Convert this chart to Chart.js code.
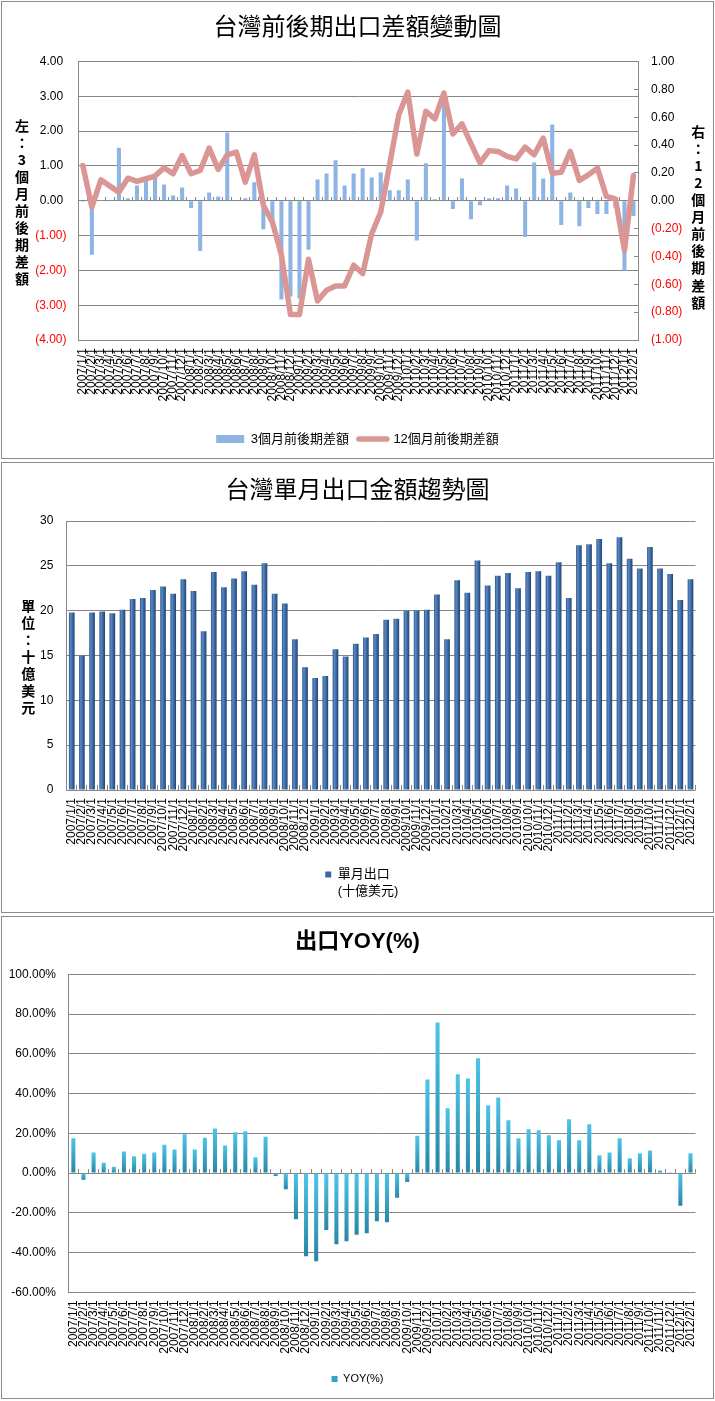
<!DOCTYPE html>
<html>
<head>
<meta charset="utf-8">
<script src="https://cdn.jsdelivr.net/npm/chart.js@4.4.1/dist/chart.umd.min.js"></script>
<style>
  body { margin: 0; background: #fff; }
  .panel { position: absolute; left: 1px; width: 711px; border: 1px solid #8c8c8c; background: #fff; }
  canvas { display: block; }
</style>
</head>
<body>
<div class="panel" style="top:1px;height:456px"><canvas id="diffChart" width="711" height="456"></canvas></div>
<div class="panel" style="top:462px;height:449px"><canvas id="exportChart" width="711" height="449"></canvas></div>
<div class="panel" style="top:916px;height:481px"><canvas id="yoyChart" width="711" height="481"></canvas></div>
<script>
// categories shared by all three charts
const months = [
  '2007/1/1', '2007/2/1', '2007/3/1', '2007/4/1', '2007/5/1', '2007/6/1',
  '2007/7/1', '2007/8/1', '2007/9/1', '2007/10/1', '2007/11/1', '2007/12/1',
  '2008/1/1', '2008/2/1', '2008/3/1', '2008/4/1', '2008/5/1', '2008/6/1',
  '2008/7/1', '2008/8/1', '2008/9/1', '2008/10/1', '2008/11/1', '2008/12/1',
  '2009/1/1', '2009/2/1', '2009/3/1', '2009/4/1', '2009/5/1', '2009/6/1',
  '2009/7/1', '2009/8/1', '2009/9/1', '2009/10/1', '2009/11/1', '2009/12/1',
  '2010/1/1', '2010/2/1', '2010/3/1', '2010/4/1', '2010/5/1', '2010/6/1',
  '2010/7/1', '2010/8/1', '2010/9/1', '2010/10/1', '2010/11/1', '2010/12/1',
  '2011/1/1', '2011/2/1', '2011/3/1', '2011/4/1', '2011/5/1', '2011/6/1',
  '2011/7/1', '2011/8/1', '2011/9/1', '2011/10/1', '2011/11/1', '2011/12/1',
  '2012/1/1', '2012/2/1'
];

// chart 1: 3-month difference (left axis) and 12-month difference (right axis)
const diff3m = [
  -0.03, -1.55, 0.02, 0.01, 1.52, 0.07, 0.44, 0.58, 0.65, 0.47, 0.15, 0.38,
  -0.21, -1.44, 0.24, 0.12, 1.96, 0.01, 0.07, 0.53, -0.82, -0.65, -2.84, -2.75,
  -2.81, -1.41, 0.61, 0.78, 1.16, 0.44, 0.78, 0.93, 0.67, 0.81, 0.30, 0.30,
  0.61, -1.14, 1.08, 0.04, 2.83, -0.24, 0.64, -0.53, -0.13, 0.07, 0.07, 0.44,
  0.35, -1.04, 1.10, 0.64, 2.19, -0.70, 0.24, -0.73, -0.21, -0.38, -0.38, -0.20,
  -2.00, -0.44
];
const diff12m = [
  0.253, -0.045, 0.15, 0.105, 0.062, 0.162, 0.139, 0.158, 0.177, 0.237, 0.194, 0.325,
  0.194, 0.217, 0.378, 0.225, 0.33, 0.35, 0.134, 0.33, -0.033, -0.153, -0.39, -0.817,
  -0.817, -0.42, -0.72, -0.643, -0.612, -0.612, -0.463, -0.523, -0.237, -0.081, 0.265, 0.617,
  0.78, 0.335, 0.643, 0.588, 0.774, 0.48, 0.552, 0.41, 0.272, 0.36, 0.354, 0.318,
  0.30, 0.385, 0.33, 0.45, 0.198, 0.205, 0.354, 0.146, 0.186, 0.234, 0.031, 0.014,
  -0.356, 0.182
];

// chart 2: monthly exports, billion USD
const monthlyExports = [
  19.8, 15.0, 19.8, 19.9, 19.7, 20.1, 21.3, 21.4, 22.3, 22.7, 21.9, 23.5,
  22.2, 17.7, 24.3, 22.6, 23.6, 24.4, 22.9, 25.3, 21.9, 20.8, 16.8, 13.7,
  12.5, 12.7, 15.7, 14.9, 16.3, 17.0, 17.4, 19.0, 19.1, 20.0, 20.0, 20.1,
  21.8, 16.8, 23.4, 22.0, 25.6, 22.8, 23.9, 24.2, 22.5, 24.3, 24.4, 23.9,
  25.4, 21.4, 27.3, 27.4, 28.0, 25.3, 28.2, 25.8, 24.7, 27.1, 24.7, 24.1,
  21.2, 23.5
];

// chart 3: export YOY, percent
const exportYoy = [
  17.5, -3.4, 10.3, 5.2, 3.2, 10.9, 8.4, 9.7, 10.3, 14.3, 11.9, 19.5,
  11.9, 17.8, 22.4, 13.8, 20.5, 21.0, 7.9, 18.3, -1.5, -8.1, -23.2, -41.8,
  -44.4, -28.6, -35.8, -34.3, -31.1, -30.3, -24.2, -24.7, -12.4, -4.5, 18.8, 47.1,
  75.8, 32.6, 49.7, 47.6, 57.8, 34.1, 38.0, 26.6, 17.5, 22.0, 21.5, 19.0,
  16.5, 27.1, 16.5, 24.5, 8.9, 10.4, 17.5, 7.4, 9.9, 11.4, 1.3, 0.2,
  -16.5, 9.9
];

const LATIN = '"Liberation Sans", "Noto Sans CJK TC", sans-serif';
const CJK = '"Noto Sans CJK TC", sans-serif';
const GRID = '#868686';

Chart.defaults.font.family = LATIN;
Chart.defaults.font.size = 12;
Chart.defaults.color = '#000';

// Excel style accounting numbers: (1.00) for negatives
function accounting(v, flush) {
  const s = Math.abs(v).toFixed(2);
  if (v < -1e-9) return '(' + s + ')';
  return flush ? s : s + ' ';
}
const negRed = c => (c.tick && c.tick.value < -1e-9 ? '#ff0000' : '#000');

// upright, one-character-per-line axis titles
const stackedTitle = {
  id: 'stackedTitle',
  afterDraw(chart, args, opts) {
    const { ctx } = chart;
    ctx.save();
    ctx.font = 'bold 14px ' + CJK;
    ctx.fillStyle = '#000';
    ctx.textAlign = 'center';
    ctx.textBaseline = 'middle';
    for (const t of opts.items || []) {
      [...t.text].forEach((ch, k) => ctx.fillText(ch, t.x, t.y + k * t.step));
    }
    ctx.restore();
  }
};

// second line under the first legend entry
const legendSubLine = {
  id: 'legendSubLine',
  afterDraw(chart, args, opts) {
    const box = chart.legend && chart.legend.legendHitBoxes[0];
    if (!box || !opts.text) return;
    const { ctx } = chart;
    ctx.save();
    ctx.font = '13px ' + LATIN;
    ctx.fillStyle = '#000';
    ctx.textAlign = 'left';
    ctx.textBaseline = 'middle';
    ctx.fillText(opts.text, box.left + opts.indent, box.top + box.height / 2 + opts.gap);
    ctx.restore();
  }
};

function cylinderFill(context) {
  const chart = context.chart;
  const xs = chart.scales.x;
  const i = context.dataIndex;
  if (!xs || i === undefined) return '#3A66A0';
  const cx = xs.getPixelForValue(i);
  const half = xs.width / months.length * 0.56 / 2;
  if (!Number.isFinite(cx) || !Number.isFinite(half) || half <= 0) return '#3A66A0';
  const g = chart.ctx.createLinearGradient(cx - half, 0, cx + half, 0);
  g.addColorStop(0, '#2E5687');
  g.addColorStop(0.3, '#5A88C4');
  g.addColorStop(0.6, '#3D6AA5');
  g.addColorStop(1, '#23446E');
  return g;
}

function tealFill(context) {
  const chart = context.chart;
  const ys = chart.scales.y;
  const v = context.raw;
  if (!ys || typeof v !== 'number') return '#31A3C6';
  const a = ys.getPixelForValue(v);
  const b = ys.getPixelForValue(0);
  if (!Number.isFinite(a) || !Number.isFinite(b) || Math.abs(a - b) < 0.5) return '#31A3C6';
  const g = chart.ctx.createLinearGradient(0, Math.min(a, b), 0, Math.max(a, b));
  g.addColorStop(0, '#4DC5E8');
  g.addColorStop(1, '#2886A5');
  return g;
}

const defaultLabels = chart => Chart.defaults.plugins.legend.labels.generateLabels(chart)
  .sort((a, b) => a.datasetIndex - b.datasetIndex);

const monthAxis = height => ({
  offset: true,
  grid: { display: false, drawTicks: false },
  border: { display: false },
  ticks: { autoSkip: false, minRotation: 90, maxRotation: 90, padding: 8, font: { size: 12 }, color: '#000' },
  afterFit: s => { s.height = height; }
});

const zeroTicks = len => ({
  type: 'category',
  axis: 'x',
  position: { y: 0 },
  offset: true,
  grid: { offset: true, drawOnChartArea: false, drawTicks: true, tickLength: -len, color: GRID },
  border: { display: false },
  ticks: { display: false }
});

const spacer = width => ({
  type: 'linear',
  position: 'right',
  grid: { display: false, drawTicks: false },
  border: { display: false },
  ticks: { display: false },
  afterFit: s => { s.width = width; }
});

new Chart(document.getElementById('diffChart'), {
  type: 'bar',
  data: {
    labels: months,
    datasets: [
      {
        type: 'bar', label: '3個月前後期差額', data: diff3m, xAxisID: 'x', yAxisID: 'y',
        backgroundColor: '#8DB4E2', borderWidth: 0, barPercentage: 0.45, categoryPercentage: 1, order: 1
      },
      {
        type: 'line', label: '12個月前後期差額', data: diff12m, xAxisID: 'x', yAxisID: 'y1',
        borderColor: '#D99694', backgroundColor: '#D99694', borderWidth: 5.5, pointRadius: 0,
        tension: 0, borderJoinStyle: 'round', borderCapStyle: 'round', order: 0
      }
    ]
  },
  options: {
    responsive: false,
    animation: false,
    layout: { padding: { bottom: 2.5 } },
    plugins: {
      title: {
        display: true, text: '台灣前後期出口差額變動圖', color: '#000',
        font: { family: CJK, size: 24, weight: 'normal' }, padding: { top: 9.6, bottom: 21.1 }
      },
      legend: {
        position: 'bottom',
        labels: {
          color: '#000', font: { family: LATIN, size: 13 }, usePointStyle: true, pointStyleWidth: 28, boxHeight: 8, padding: 10,
          generateLabels: chart => defaultLabels(chart).map(item => ({
            ...item,
            pointStyle: item.datasetIndex === 0 ? 'rect' : 'line',
            lineCap: 'round'
          }))
        }
      },
      tooltip: { enabled: false },
      stackedTitle: {
        items: [
          { text: '左：3個月前後期差額', x: 20, y: 123.7, step: 17 },
          { text: '右：12個月前後期差額', x: 696.3, y: 129.3, step: 17.1 }
        ]
      }
    },
    scales: {
      x: monthAxis(82.5),
      x2: zeroTicks(4),
      y: {
        position: 'left', min: -4, max: 4,
        ticks: { stepSize: 1, padding: 11.8, callback: v => accounting(v, false), color: negRed },
        grid: { color: GRID, drawTicks: false },
        border: { color: GRID },
        afterFit: s => { s.width = 76.3; }
      },
      y1: {
        position: 'right', min: -1, max: 1,
        ticks: { stepSize: 0.2, padding: 17, callback: v => accounting(v, true), color: negRed },
        grid: { drawOnChartArea: false, drawTicks: true, tickLength: -4, color: GRID },
        border: { color: GRID },
        afterFit: s => { s.width = 75; }
      }
    }
  },
  plugins: [stackedTitle]
});

new Chart(document.getElementById('exportChart'), {
  type: 'bar',
  data: {
    labels: months,
    datasets: [{
      label: '單月出口', data: monthlyExports, xAxisID: 'x', yAxisID: 'y',
      backgroundColor: cylinderFill, borderWidth: 0, barPercentage: 0.56, categoryPercentage: 1
    }]
  },
  options: {
    responsive: false,
    animation: false,
    layout: { padding: { bottom: 21 } },
    plugins: {
      title: {
        display: true, text: '台灣單月出口金額趨勢圖', color: '#000',
        font: { family: CJK, size: 24, weight: 'normal' }, padding: { top: 11.6, bottom: 17.6 }
      },
      legend: {
        position: 'bottom',
        labels: {
          color: '#000', font: { family: LATIN, size: 13 }, usePointStyle: true, pointStyleWidth: 6, boxHeight: 6, padding: 10,
          generateLabels: chart => defaultLabels(chart).map(item => ({ ...item, pointStyle: 'rect', fillStyle: '#3B68A3', lineWidth: 0 }))
        }
      },
      tooltip: { enabled: false },
      legendSubLine: { text: '(十億美元)', indent: 12.5, gap: 17 },
      stackedTitle: {
        items: [{ text: '單位：十億美元', x: 26.3, y: 142.8, step: 17 }]
      }
    },
    scales: {
      x: monthAxis(68),
      x2: zeroTicks(5),
      y: {
        position: 'left', min: 0, max: 30,
        ticks: { stepSize: 5, padding: 13.4 },
        grid: { color: GRID, drawTicks: false },
        border: { color: GRID },
        afterFit: s => { s.width = 64.7; }
      },
      yr: spacer(14.7)
    }
  },
  plugins: [stackedTitle, legendSubLine]
});

new Chart(document.getElementById('yoyChart'), {
  type: 'bar',
  data: {
    labels: months,
    datasets: [{
      label: 'YOY(%)', data: exportYoy, xAxisID: 'x', yAxisID: 'y',
      backgroundColor: tealFill, borderWidth: 0, barPercentage: 0.4, categoryPercentage: 1
    }]
  },
  options: {
    responsive: false,
    animation: false,
    layout: { padding: { bottom: 3.5 } },
    plugins: {
      title: {
        display: true, text: '出口YOY(%)', color: '#000',
        font: { family: LATIN, size: 22, weight: 'bold' }, padding: { top: 11.8, bottom: 19.1 }
      },
      legend: {
        position: 'bottom',
        labels: {
          color: '#000', font: { family: LATIN, size: 11 }, usePointStyle: true, pointStyleWidth: 6, boxHeight: 6, padding: 10,
          generateLabels: chart => defaultLabels(chart).map(item => ({ ...item, pointStyle: 'rect', fillStyle: '#31A3C6', lineWidth: 0 }))
        }
      },
      tooltip: { enabled: false }
    },
    scales: {
      x: monthAxis(71.2),
      x2: zeroTicks(4),
      y: {
        position: 'left', min: -60, max: 100,
        ticks: { stepSize: 20, padding: 12.3, callback: v => v.toFixed(2) + '%' },
        grid: { color: GRID, drawTicks: false },
        border: { color: GRID },
        afterFit: s => { s.width = 66.3; }
      },
      yr: spacer(14.7)
    }
  }
});
</script>
</body>
</html>
